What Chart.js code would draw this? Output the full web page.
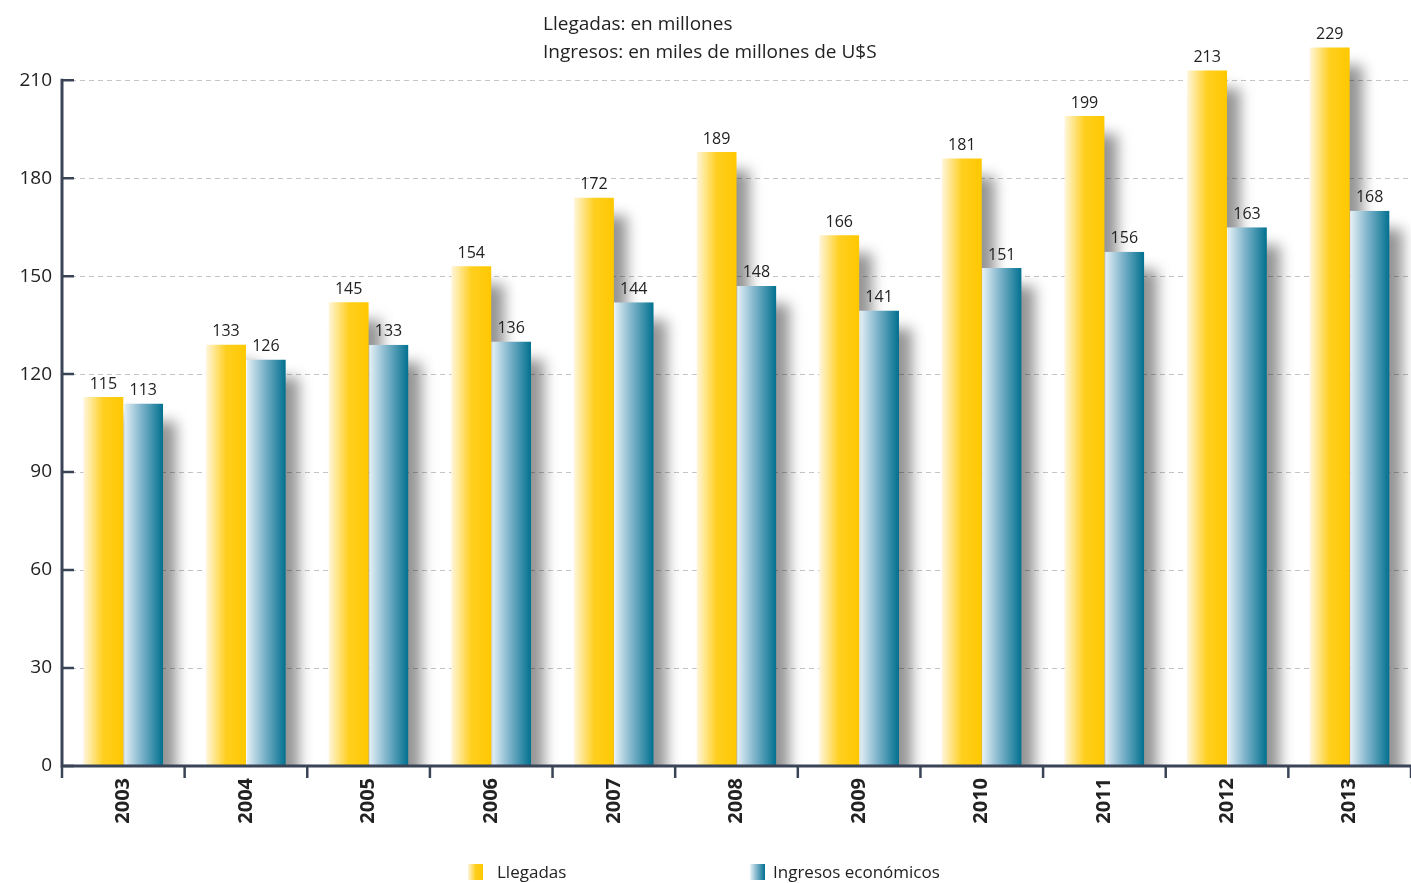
<!DOCTYPE html>
<html>
<head>
<meta charset="utf-8">
<script src="https://cdn.jsdelivr.net/npm/chart.js@4"></script>
<style>
  html, body { margin: 0; padding: 0; background: #fff; }
  #wrap { width: 1411px; height: 883px; }
</style>
</head>
<body>
<div id="wrap"><canvas id="myChart" width="1411" height="883"></canvas></div>
<script>
const years = ['2003', '2004', '2005', '2006', '2007', '2008', '2009', '2010', '2011', '2012', '2013'];
// bar heights as drawn in the picture
const llegadas = [113, 129, 142, 153, 174, 188, 162.5, 186, 199, 213, 220];
const ingresos = [111, 124.5, 129, 130, 142, 147, 139.5, 152.5, 157.5, 165, 170];
// numbers printed above the bars
const llegadasLabels = [115, 133, 145, 154, 172, 189, 166, 181, 199, 213, 229];
const ingresosLabels = [113, 126, 133, 136, 144, 148, 141, 151, 156, 163, 168];
const yTicks = [0, 30, 60, 90, 120, 150, 180, 210];
const titleLines = ['Llegadas: en millones', 'Ingresos: en miles de millones de U$S'];
const seriesNames = ['Llegadas', 'Ingresos económicos'];

const FONT = "'Open Sans', 'Noto Sans', sans-serif";
const AXIS = '#3a4457';
const CAT_PCT = 0.65;

const yellowStops = [[0, '#fff6dc'], [0.5, '#ffcf1f'], [1, '#ffc800']];
const blueStops = [[0, '#eaf3f8'], [0.45, '#7fb4cb'], [1, '#00708f']];

function barGradient(context, stops) {
    const chart = context.chart;
    const xs = chart.scales.x;
    if (!chart.chartArea || !xs || context.type !== 'data') return stops[stops.length - 1][1];
    const cat = xs.width / years.length;
    const group = cat * CAT_PCT;
    const bw = group / 2;
    const left = xs.getPixelForValue(context.dataIndex) - group / 2 + context.datasetIndex * bw;
    const g = chart.ctx.createLinearGradient(left, 0, left + bw, 0);
    stops.forEach(s => g.addColorStop(s[0], s[1]));
    return g;
}

const shadowPlugin = {
    id: 'barShadow',
    beforeDatasetsDraw(chart) {
        const ctx = chart.ctx;
        const a = chart.chartArea;
        ctx.save();
        ctx.beginPath();
        ctx.rect(a.left, a.top, a.right - a.left + 40, a.bottom - a.top);
        ctx.clip();
        ctx.filter = 'blur(7px)';
        ctx.fillStyle = 'rgba(0,0,0,0.42)';
        chart.data.datasets.forEach((ds, i) => {
            chart.getDatasetMeta(i).data.forEach(el => {
                ctx.fillRect(el.x - el.width / 2 + 13, el.y + 18, el.width, el.base - el.y);
            });
        });
        ctx.restore();
    }
};

const decorPlugin = {
    id: 'decor',
    afterDraw(chart) {
        const ctx = chart.ctx;
        const ys = chart.scales.y;
        const xs = chart.scales.x;
        const a = chart.chartArea;
        ctx.save();

        // axes
        ctx.strokeStyle = AXIS;
        ctx.lineWidth = 3;
        ctx.beginPath();
        ctx.moveTo(a.left, ys.getPixelForValue(yTicks[yTicks.length - 1]) - 1.5);
        ctx.lineTo(a.left, a.bottom + 1.5);
        ctx.moveTo(a.left, a.bottom);
        ctx.lineTo(a.right, a.bottom);
        ctx.stroke();
        ctx.lineWidth = 2.5;
        ctx.beginPath();
        yTicks.forEach(v => {
            const py = ys.getPixelForValue(v);
            ctx.moveTo(a.left, py);
            ctx.lineTo(a.left + 12, py);
        });
        const cat = xs.width / years.length;
        for (let i = 0; i <= years.length; i++) {
            const px = a.left + i * cat;
            ctx.moveTo(px, a.bottom);
            ctx.lineTo(px, a.bottom + 12);
        }
        ctx.stroke();

        // value labels
        ctx.fillStyle = '#222';
        ctx.font = '16px ' + FONT;
        ctx.textAlign = 'center';
        ctx.textBaseline = 'bottom';
        [llegadasLabels, ingresosLabels].forEach((labels, i) => {
            chart.getDatasetMeta(i).data.forEach((el, j) => {
                ctx.fillText(String(labels[j]), el.x, el.y - 5);
            });
        });

        // title
        ctx.font = '19px ' + FONT;
        ctx.textAlign = 'left';
        ctx.textBaseline = 'middle';
        titleLines.forEach((t, i) => ctx.fillText(t, 543, 25 + i * 28));

        // legend
        const items = [[468, 497, yellowStops], [750, 773, blueStops]];
        ctx.font = '17px ' + FONT;
        items.forEach((it, i) => {
            const g = ctx.createLinearGradient(it[0], 0, it[0] + 15, 0);
            it[2].forEach(s => g.addColorStop(s[0], s[1]));
            ctx.fillStyle = g;
            ctx.fillRect(it[0], 864, 15, 16);
            ctx.fillStyle = '#222';
            ctx.fillText(seriesNames[i], it[1], 873);
        });
        ctx.restore();
    }
};

new Chart(document.getElementById('myChart'), {
    type: 'bar',
    data: {
        labels: years,
        datasets: [
            {
                label: seriesNames[0],
                data: llegadas,
                backgroundColor: c => barGradient(c, yellowStops),
                borderWidth: 0,
                barPercentage: 1,
                categoryPercentage: CAT_PCT
            },
            {
                label: seriesNames[1],
                data: ingresos,
                backgroundColor: c => barGradient(c, blueStops),
                borderColor: '#ffffff',
                borderWidth: { left: 1, top: 0, right: 0, bottom: 0 },
                borderSkipped: false,
                barPercentage: 1,
                categoryPercentage: CAT_PCT
            }
        ]
    },
    options: {
        responsive: false,
        animation: false,
        layout: { padding: { top: 15, right: 0, left: 0, bottom: 0 } },
        plugins: {
            legend: { display: false },
            title: { display: false },
            tooltip: { enabled: false }
        },
        scales: {
            x: {
                offset: true,
                grid: { display: false, drawTicks: false },
                border: { display: false },
                ticks: {
                    minRotation: 90,
                    maxRotation: 90,
                    padding: 12,
                    color: '#222',
                    font: { family: FONT, size: 20, weight: 'bold' }
                },
                afterFit: s => { s.height = 117; }
            },
            y: {
                min: 0,
                max: 228,
                afterBuildTicks: s => { s.ticks = yTicks.map(v => ({ value: v })); },
                grid: {
                    color: '#c4c4c4',
                    lineWidth: 1,
                    drawTicks: false
                },
                border: { display: false, dash: [5, 4] },
                ticks: {
                    padding: 10,
                    color: '#222',
                    font: { family: FONT, size: 19 }
                },
                afterFit: s => { s.width = 62; }
            }
        }
    },
    plugins: [shadowPlugin, decorPlugin]
});
</script>
</body>
</html>
